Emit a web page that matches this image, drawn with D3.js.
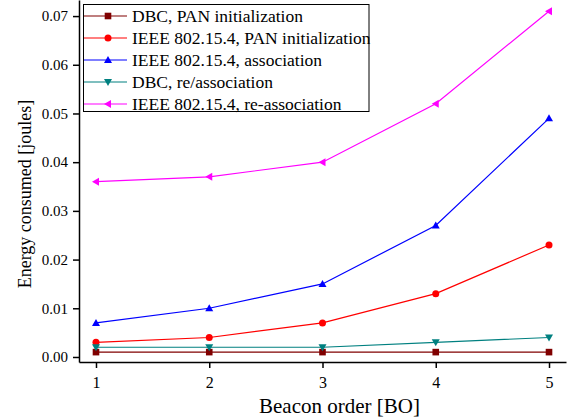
<!DOCTYPE html>
<html><head><meta charset="utf-8">
<script src="https://cdn.jsdelivr.net/npm/d3@7"></script>
<style>body{margin:0;background:#fff}svg{display:block}text{font-family:"Liberation Serif","Times New Roman",serif}</style>
</head><body><svg id="c" width="576" height="419"></svg>
<script>
const beaconOrder = [1, 2, 3, 4, 5];
const seriesNames = ["DBC, PAN initialization", "IEEE 802.15.4, PAN initialization", "IEEE 802.15.4, association", "DBC, re/association", "IEEE 802.15.4, re-association"];
const dbcPanInit = [0.001, 0.001, 0.001, 0.001, 0.001];
const ieeePanInit = [0.003, 0.004, 0.007, 0.013, 0.023];
const ieeeAssoc = [0.007, 0.010, 0.015, 0.027, 0.049];
const dbcReassoc = [0.002, 0.002, 0.002, 0.003, 0.004];
const ieeeReassoc = [0.036, 0.037, 0.040, 0.052, 0.071];
const yTicks = [0.00, 0.01, 0.02, 0.03, 0.04, 0.05, 0.06, 0.07];
const xTicks = [1, 2, 3, 4, 5];
const colors = ["#800000", "#ff0000", "#0000ff", "#008080", "#ff00ff"];
const symbols = ["square", "circle", "triUp", "triDown", "triLeft"];
const allSeries = [dbcPanInit, ieeePanInit, ieeeAssoc, dbcReassoc, ieeeReassoc];

const svg = d3.select("#c");
const L = 79, R = 566, T = 0, B = 362;
const x = d3.scaleLinear().domain([0.85, 5.15]).range([L, R]);
const y = d3.scaleLinear().domain([-0.00103, 0.0733]).range([B, T]);

function marker(g, type, cx, cy, color) {
  const s = 3.3;
  if (type === "square") g.append("rect").attr("x", cx - s).attr("y", cy - s).attr("width", 2*s).attr("height", 2*s).attr("fill", color);
  else if (type === "circle") g.append("circle").attr("cx", cx).attr("cy", cy).attr("r", 3.5).attr("fill", color);
  else {
    let p;
    const a = 4;
    if (type === "triUp") p = [[cx, cy - a], [cx - a, cy + a*0.75], [cx + a, cy + a*0.75]];
    if (type === "triDown") p = [[cx, cy + a], [cx - a, cy - a*0.75], [cx + a, cy - a*0.75]];
    if (type === "triLeft") p = [[cx - a, cy], [cx + a*0.75, cy - a], [cx + a*0.75, cy + a]];
    g.append("polygon").attr("points", p.map(q => q.join(",")).join(" ")).attr("fill", color);
  }
}

// axes
const xAxis = d3.axisBottom(x).tickValues(xTicks).tickFormat(d3.format("d")).tickSize(6).tickSizeOuter(0);
const gx = svg.append("g").attr("transform", `translate(0,${B})`).call(xAxis);
gx.select(".domain").attr("stroke", "#000").attr("stroke-width", 1.5);
gx.selectAll(".tick line").attr("stroke", "#000").attr("stroke-width", 1.5);
gx.selectAll(".tick text").attr("font-size", 16).attr("font-family", "Liberation Serif").attr("fill", "#000").attr("dy", "1.05em");

const yAxis = d3.axisLeft(y).tickValues(yTicks).tickFormat(d3.format(".2f")).tickSize(6).tickSizeOuter(0);
const gy = svg.append("g").attr("transform", `translate(${L},0)`).call(yAxis);
gy.select(".domain").attr("stroke", "#000").attr("stroke-width", 1.5);
gy.selectAll(".tick line").attr("stroke", "#000").attr("stroke-width", 1.5);
gy.selectAll(".tick text").attr("font-size", 15).attr("font-family", "Liberation Serif").attr("fill", "#000").attr("x", -11);

svg.append("text").attr("x", 339.5).attr("y", 413).attr("text-anchor", "middle").attr("font-size", 21).text("Beacon order [BO]");
svg.append("text").attr("transform", "translate(31,194) rotate(-90)").attr("text-anchor", "middle").attr("font-size", 18).text("Energy consumed [joules]");

// series
const line = d3.line().x((d, i) => x(beaconOrder[i])).y(d => y(d));
allSeries.forEach((vals, k) => {
  const g = svg.append("g");
  g.append("path").datum(vals).attr("d", line).attr("fill", "none").attr("stroke", colors[k]).attr("stroke-width", 1.2);
  vals.forEach((v, i) => marker(g, symbols[k], x(beaconOrder[i]), y(v), colors[k]));
});

// legend
const lg = svg.append("g");
lg.append("rect").attr("x", 83.5).attr("y", 4.5).attr("width", 285.5).attr("height", 107).attr("fill", "#fff").attr("stroke", "#000").attr("stroke-width", 1);
seriesNames.forEach((n, k) => {
  const cy = 16 + k * 22;
  lg.append("line").attr("x1", 84).attr("x2", 127).attr("y1", cy).attr("y2", cy).attr("stroke", colors[k]).attr("stroke-width", 1.2);
  marker(lg, symbols[k], 108, cy, colors[k]);
  lg.append("text").attr("x", 132).attr("y", cy + 5.5).attr("font-size", 17.5).attr("fill", "#000").text(n);
});
</script></body></html>
